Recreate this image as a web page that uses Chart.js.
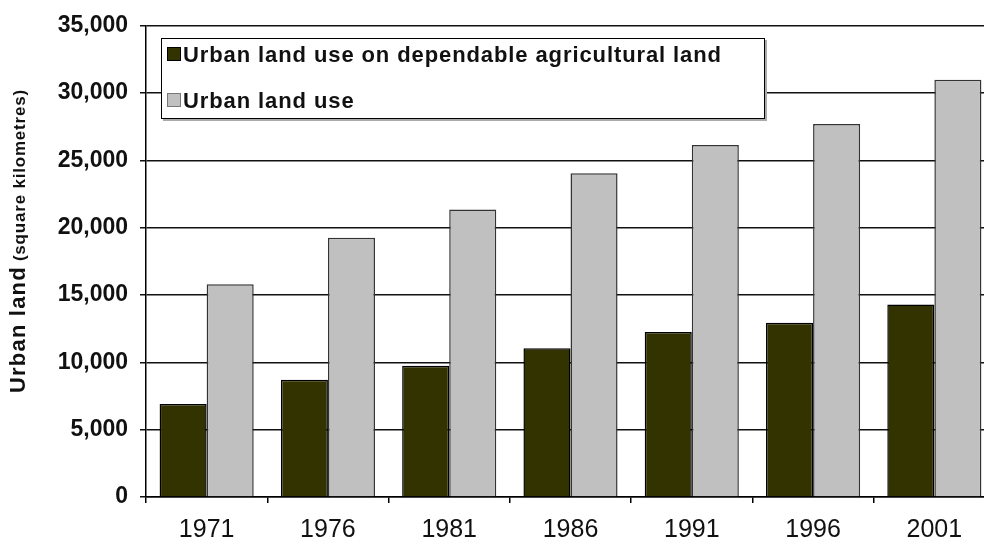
<!DOCTYPE html>
<html>
<head>
<meta charset="utf-8">
<script src="https://cdn.jsdelivr.net/npm/chart.js@4.4.1/dist/chart.umd.min.js"></script>
<style>
  html, body { margin: 0; padding: 0; background: #fff; overflow: hidden; }
  #wrap { position: relative; width: 1000px; height: 545px; }
  #legend {
    position: absolute; left: 161px; top: 38px; width: 602px; height: 79px;
    border: 1.5px solid #000; background: #fff; box-shadow: 2px 2px 0 #aaa;
    font: bold 22px Arial, "Liberation Sans", sans-serif; letter-spacing: 0.9px; color: #111;
  }
  #legend .row { position: absolute; left: 5px; height: 26px; line-height: 26px; white-space: nowrap; }
  #legend .sw { display: inline-block; width: 12px; height: 12px; border: 1px solid #000; margin-right: 2px; vertical-align: 1px; }
</style>
</head>
<body>
<div id="wrap">
  <canvas id="c" width="1000" height="545"></canvas>
  <div id="legend"></div>
</div>
<script>
  // values (square kilometres)
  const years = ["1971", "1976", "1981", "1986", "1991", "1996", "2001"];
  const onAgriLand = [6900, 8700, 9750, 11050, 12250, 12950, 14300];
  const urbanTotal = [15800, 19250, 21350, 24050, 26150, 27700, 31000];
  const yTicks = [0, 5000, 10000, 15000, 20000, 25000, 30000, 35000];

  const seriesNames = ["Urban land use on dependable agricultural land", "Urban land use"];
  const fillColors = ["#333300", "#c0c0c0"];
  const edgeColors = ["#000000", "#333333"];

  const font = "Arial, 'Liberation Sans', sans-serif";

  // y title has two sizes, so draw it by hand
  const yTitle = {
    id: "yTitle",
    afterDraw(chart) {
      const ctx = chart.ctx;
      ctx.save();
      ctx.translate(25, 393);
      ctx.rotate(-Math.PI / 2);
      ctx.fillStyle = "#111";
      ctx.textBaseline = "alphabetic";
      ctx.textAlign = "left";
      ctx.font = "bold 22px " + font;
      ctx.letterSpacing = "1.2px";
      ctx.fillText("Urban land", 0, 0);
      const w = ctx.measureText("Urban land").width;
      ctx.font = "bold 17px " + font;
      ctx.letterSpacing = "0.8px";
      ctx.fillText("(square kilometres)", w + 5, 0);
      ctx.restore();
    }
  };

  const chart = new Chart(document.getElementById("c"), {
    type: "bar",
    data: {
      labels: years,
      datasets: [
        { label: seriesNames[0], data: onAgriLand, backgroundColor: fillColors[0], borderColor: edgeColors[0], borderWidth: 1.5 },
        { label: seriesNames[1], data: urbanTotal, backgroundColor: fillColors[1], borderColor: edgeColors[1], borderWidth: 1.5 },
      ],
    },
    options: {
      responsive: false,
      animation: false,
      layout: { padding: { top: 24, right: 5, left: 0, bottom: 0 } },
      datasets: { bar: { categoryPercentage: 0.776, barPercentage: 1 } },
      plugins: { legend: { display: false }, tooltip: { enabled: false } },
      scales: {
        x: {
          afterFit: (s) => { s.height = 48; },
          grid: { offset: true, drawOnChartArea: false, tickLength: 6, color: "#000", lineWidth: 1.5 },
          border: { color: "#000", width: 1.5 },
          ticks: { padding: 12, color: "#111", font: { family: font, size: 25 } },
        },
        y: {
          min: 0, max: 35000,
          afterFit: (s) => { s.width = 146; },
          afterBuildTicks: (s) => { s.ticks = yTicks.map((v) => ({ value: v })); },
          grid: { color: "#111", lineWidth: 1.5, tickLength: 6 },
          border: { color: "#000", width: 1.5 },
          ticks: {
            padding: 12, color: "#111",
            font: { family: font, size: 23, weight: "bold" },
            callback: (v) => v.toLocaleString("en-US"),
          },
        },
      },
    },
    plugins: [yTitle],
  });

  // legend box sits inside the plot, built from the chart's datasets
  const legend = document.getElementById("legend");
  legend.innerHTML = chart.data.datasets.map((d, i) => (
    `<div class="row" style="top:${i ? 49 : 3}px"><span class="sw" style="background:${d.backgroundColor};border-color:${i ? "#777" : "#000"}"></span>${d.label}</div>`
  )).join("");
</script>
</body>
</html>
